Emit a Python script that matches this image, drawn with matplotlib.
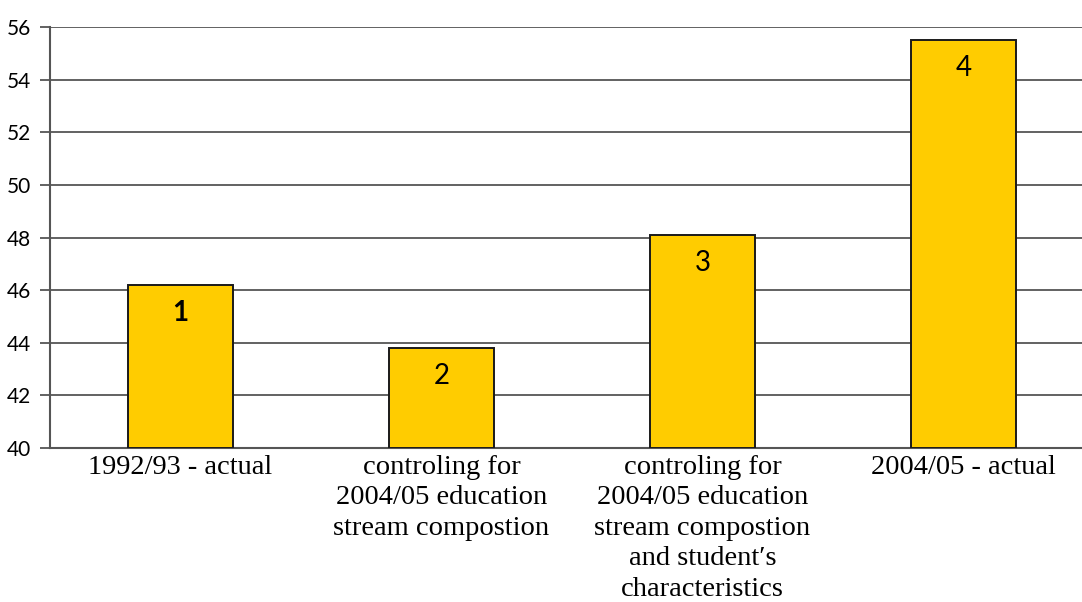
import matplotlib
matplotlib.use("Agg")
import matplotlib.pyplot as plt

categories = [
    "1992/93 - actual",
    "controling for\n2004/05 education\nstream compostion",
    "controling for\n2004/05 education\nstream compostion\nand student\u2032s\ncharacteristics",
    "2004/05 - actual",
]
values = [46.2, 43.8, 48.1, 55.5]
bar_labels = ["1", "2", "3", "4"]
yticks = [40, 42, 44, 46, 48, 50, 52, 54, 56]

fig = plt.figure(figsize=(10.82, 6.02), dpi=100)
# axes spans x 50..1094 px, y 27..448 px
ax = fig.add_axes([50 / 1082, (602 - 448) / 602, 1044 / 1082, 421 / 602])

x = list(range(len(categories)))
ax.bar(x, [v - 40 for v in values], bottom=40, width=0.4, color="#FFCC00",
       edgecolor="#1a1a1a", linewidth=1.4, zorder=3)

for xi, v, lab in zip(x, values, bar_labels):
    ax.annotate(lab, (xi, v), xytext=(0, -28), textcoords="offset pixels",
                ha="center", va="center", fontsize=20, family="Lato",
                fontweight="bold" if lab == "1" else "normal", zorder=4)

ax.set_xlim(-0.5, 3.5)
ax.set_ylim(40, 56)
ax.set_yticks(yticks)
ax.set_yticklabels([str(t) for t in yticks], family="Lato", fontsize=15)
ax.yaxis.grid(True, color="#555555", linewidth=1.3, zorder=0)
ax.set_axisbelow(True)

ax.set_xticks(x)
ax.set_xticklabels(categories, family="Liberation Serif", fontsize=20.5,
                   linespacing=1.29, va="top")
ax.tick_params(axis="x", length=0, pad=5)
ax.tick_params(axis="y", length=7, width=1.3, color="#555555", pad=7)

for side in ("top", "right"):
    ax.spines[side].set_visible(False)
for side in ("left", "bottom"):
    ax.spines[side].set_color("#555555")
    ax.spines[side].set_linewidth(1.5)

fig.savefig("out.png", dpi=100)
